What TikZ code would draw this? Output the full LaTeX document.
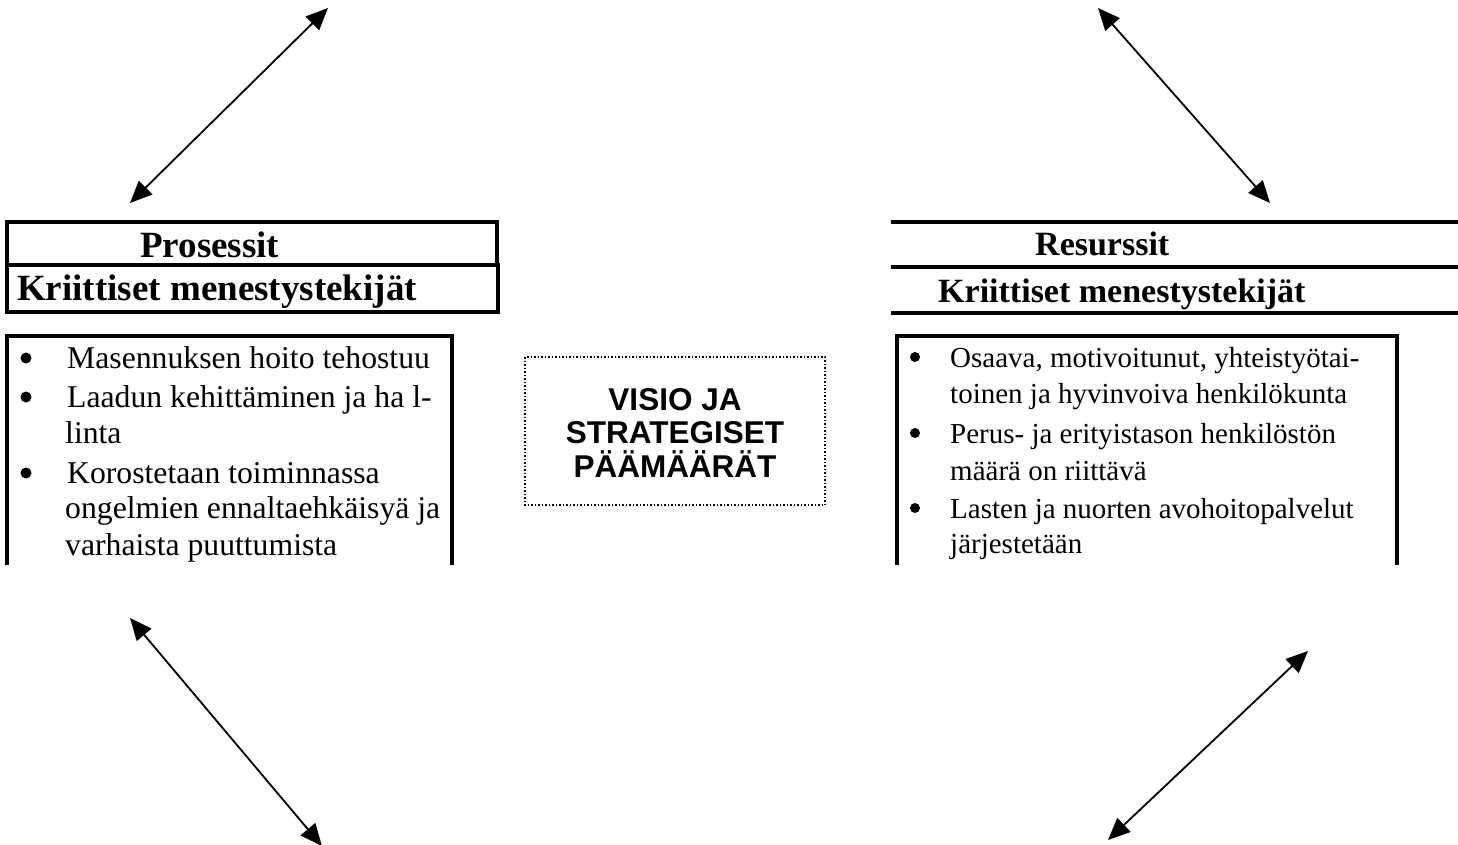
\documentclass[tikz,border=0pt]{standalone}
\usepackage{fontspec}
\setmainfont{Liberation Serif}
\newfontfamily\sansf{Liberation Sans}
\usetikzlibrary{arrows.meta}
\begin{document}
\begin{tikzpicture}[x=1pt,y=-1pt,
  frame/.style={draw,line width=3.2pt},
  ln/.style={anchor=base west,inner sep=0pt},
  bul/.style={fill=black,circle,inner sep=0pt,minimum size=11pt},
  rbul/.style={fill=black,circle,inner sep=0pt,minimum size=10pt},
  lefttext/.style={font=\fontsize{31.7}{37}\selectfont},
  righttext/.style={font=\fontsize{29}{35}\selectfont},
  lhead/.style={font=\fontsize{37}{40}\selectfont\bfseries},
  rhead/.style={font=\fontsize{34}{38}\selectfont\bfseries},
  ctext/.style={anchor=base,inner sep=0pt,font=\fontsize{31.5}{34}\selectfont\sansf\bfseries},
  dbl/.style={{Triangle[length=22pt,width=19pt]}-{Triangle[length=22pt,width=19pt]},line width=1.8pt}]
\useasboundingbox (0,0) rectangle (1458,845);

% left titles
\draw[frame] (7,222) rectangle (497,265);
\draw[frame] (7,265) rectangle (498,312);
\node[ln,lhead] (ptitle) at (140,257) {Prosessit};
\node[ln,lhead] (pksf) at (17,300) {Kriittiset menestystekijät};

% left list box
\draw[frame] (7,565) -- (7,336) -- (452,336) -- (452,565);
\node[bul] (lb1) at (26,358) {};
\node[ln,lefttext] (l1) at (67,368) {Masennuksen hoito tehostuu};
\node[bul] (lb2) at (26,397) {};
\node[ln,lefttext] (l2) at (67,407) {Laadun kehittäminen ja ha l-};
\node[ln,lefttext] (l3) at (65,443) {linta};
\node[bul] (lb3) at (26,473) {};
\node[ln,lefttext] (l4) at (67,483) {Korostetaan toiminnassa};
\node[ln,lefttext] (l5) at (65,518) {ongelmien ennaltaehkäisyä ja};
\node[ln,lefttext] (l6) at (65,555) {varhaista puuttumista};

% right titles
\draw[line width=3.2pt] (891,222) -- (1458,222);
\draw[line width=3.2pt] (891,267) -- (1458,267);
\draw[line width=3.2pt] (891,313) -- (1458,313);
\node[ln,rhead] (rtitle) at (1035,255) {Resurssit};
\node[ln,rhead] (rksf) at (938,302) {Kriittiset menestystekijät};

% right list box
\draw[frame] (897,565) -- (897,336) -- (1397,336) -- (1397,565);
\node[rbul] (rb1) at (915,357) {};
\node[ln,righttext] (r1) at (950,367) {Osaava, motivoitunut, yhteistyötai-};
\node[ln,righttext] (r2) at (950,403) {toinen ja hyvinvoiva henkilökunta};
\node[rbul] (rb2) at (915,433) {};
\node[ln,righttext] (r3) at (950,443) {Perus- ja erityistason henkilöstön};
\node[ln,righttext] (r4) at (950,480) {määrä on riittävä};
\node[rbul] (rb3) at (915,508) {};
\node[ln,righttext] (r5) at (950,518) {Lasten ja nuorten avohoitopalvelut};
\node[ln,righttext] (r6) at (950,553) {järjestetään};

% center box
\draw[line width=1.5pt,dotted] (525,357) rectangle (825,505);
\node[ctext] (c1) at (675,410) {VISIO JA};
\node[ctext] (c2) at (675,443) {STRATEGISET};
\node[ctext] (c3) at (675,477) {PÄÄMÄÄRÄT};

% arrows
\coordinate (tla) at (130,203);
\coordinate (tlb) at (328,8);
\coordinate (tra) at (1098,8);
\coordinate (trb) at (1270,203);
\coordinate (bla) at (130,618);
\coordinate (blb) at (322,846);
\coordinate (bra) at (1108,840);
\coordinate (brb) at (1308,651);
\draw[dbl] (tla) -- (tlb);
\draw[dbl] (tra) -- (trb);
\draw[dbl] (bla) -- (blb);
\draw[dbl] (bra) -- (brb);
\end{tikzpicture}
\end{document}
